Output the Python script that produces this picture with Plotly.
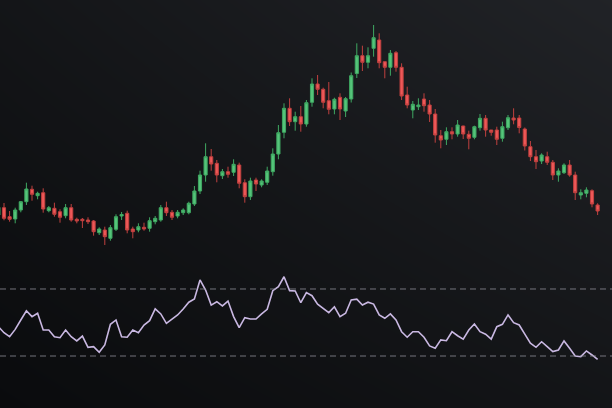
import plotly.graph_objects as go

# ---- candle data (price units) ----
opens = [85, 92.3, 83.3, 81, 90, 98.3, 110.7, 104.3, 107.3, 89.3,
         91.7, 88.3, 84.3, 92.3, 80.7, 80.7, 80, 79, 67.3, 70,
         61.7, 70.7, 84, 86.7, 71, 70, 72.7, 71.7, 78.3, 80,
         92.3, 87.7, 84, 87.3, 87.3, 96, 109, 125, 143.3, 136.7,
         124.3, 128.3, 127.7, 135, 117.3, 103.3, 120, 115, 117.7, 128.3,
         146, 167.7, 191.7, 178.3, 183.3, 176, 197.7, 216, 210.7, 199.3,
         191, 202.7, 189, 201, 226.5, 244.3, 237.7, 251.7, 260, 238.3,
         232.7, 247.3, 232.7, 205, 190, 193.3, 201, 195, 186, 164.3,
         160.7, 168.3, 166, 174, 165.7, 162.7, 172.3, 181.7, 170, 170,
         161.7, 172.3, 182, 182, 171, 153.3, 143.3, 139, 143.3, 137.7,
         125, 127.3, 135, 125, 105, 106.7, 109.3, 95]
highs = [95, 97, 89, 92.3, 99, 117.3, 114.3, 108.3, 111.7, 94,
         97.3, 90.7, 96, 96, 82.3, 82, 82.7, 80, 72.7, 73.3,
         75, 85.7, 88, 89.3, 73.3, 76.7, 77.3, 82.7, 84, 95,
         98.3, 90, 90, 91.7, 98.3, 114, 129.3, 156.7, 151, 140,
         131, 133.3, 140.7, 137.3, 120.7, 122.3, 122.3, 120.7, 133.3, 151.7,
         175, 196.7, 201.7, 188.3, 194, 200, 221.7, 225, 212.3, 218,
         202.3, 206.7, 203, 227.5, 256.7, 254.3, 252.7, 275, 266.7, 238.3,
         250, 249, 236.7, 213.3, 199, 201.7, 206.7, 200, 191, 170,
         172.7, 172.7, 180, 174.3, 169.3, 174.3, 186, 185, 170, 173.3,
         178.3, 185, 191.7, 185, 172.5, 159, 150, 146.7, 148.3, 140,
         131.7, 136.7, 140, 128.3, 110.7, 112.7, 110.7, 96.7]
lows = [82, 79.7, 78.3, 76.7, 87.7, 95, 99.3, 100.7, 87.3, 87.7,
        83.3, 77.3, 81.7, 78.3, 76.7, 72, 76, 64.3, 65, 55,
        59.3, 69, 80, 66.7, 61.7, 67.7, 69.3, 68.3, 75.7, 78.3,
        84, 80, 81.7, 85, 85.7, 94, 106, 118.3, 129.3, 117.7,
        121, 122.3, 124, 111.7, 97.3, 100, 109, 112.7, 115, 124.3,
        140.7, 161.7, 174, 169.3, 168.3, 173.3, 193.3, 205, 191.7, 185.7,
        185.7, 180, 183, 197.5, 222, 229, 231.7, 243.3, 231.7, 221.7,
        224.3, 228.3, 200, 191.7, 181.7, 190, 188.3, 178, 157.3, 151.7,
        155, 160.7, 163.3, 161, 150.7, 160.7, 169.3, 163.3, 164.3, 155,
        158.3, 170, 175.7, 166.7, 149.5, 139, 131, 136, 135, 120,
        118.3, 126, 123.3, 100, 100.7, 102.7, 92.7, 85]
closes = [92.7, 81.7, 80.7, 90, 98.3, 111, 105.7, 106.7, 91, 92.3,
          85.7, 82.7, 92.3, 80, 79, 79.3, 78.3, 68.3, 71, 63.3,
          72.3, 83.3, 85.5, 70, 68.3, 73.3, 71, 79.3, 81.7, 92.3,
          87.3, 82.7, 87.7, 90, 96.7, 109, 125, 143.3, 136, 125,
          128.3, 125.7, 135.7, 116.7, 103.3, 119, 116, 119, 129, 146,
          167.3, 191.7, 178.3, 183.3, 176, 197.3, 216, 210.7, 197.7, 190.7,
          200.7, 191, 201.3, 224.3, 244.3, 237.7, 244.3, 262.3, 237.3, 232.7,
          246.7, 232.7, 204, 195, 195.7, 195, 194.3, 186, 165, 160,
          168.3, 166, 175, 166, 161.7, 173.3, 181.7, 170, 167.7, 160.7,
          173.3, 182.3, 180, 172.5, 154, 143.3, 138.3, 145, 137.7, 125,
          129, 135, 125, 107.3, 107.3, 110, 96, 89]

# ---- oscillator (RSI-like) values ----
rsi = [47.5, 43.9, 41.5, 45.9, 51.5, 57.0, 53.5, 55.5, 45.5, 45.5,
       41.5, 40.9, 45.5, 41.5, 39.0, 41.9, 35.2, 35.6, 32.2, 36.6,
       48.9, 51.5, 41.5, 41.2, 45.5, 43.9, 48.5, 51.1, 58.1, 55.1,
       49.5, 51.9, 54.5, 58.1, 62.1, 64.0, 75.4, 69.4, 60.4, 62.4,
       59.9, 62.8, 53.5, 46.9, 52.9, 52.1, 52.1, 55.1, 57.9, 69.0,
       71.4, 77.3, 69.0, 68.8, 61.8, 67.8, 66.0, 60.9, 58.4, 55.9,
       59.4, 53.5, 55.5, 63.4, 63.9, 60.4, 62.1, 61.0, 54.5, 52.5,
       55.1, 51.5, 44.5, 41.2, 44.5, 44.5, 41.2, 36.0, 34.6, 39.6,
       39.1, 44.5, 42.1, 40.1, 45.5, 49.1, 44.5, 43.0, 40.1, 47.5,
       48.9, 54.5, 49.9, 48.5, 43.1, 37.6, 35.2, 38.5, 35.6, 32.6,
       33.6, 39.0, 34.6, 30.0, 29.6, 33.0, 30.6, 28.0]
levels = [70, 30]

idx = list(range(len(opens)))
ridx = list(range(len(rsi)))

X_RANGE = [0.286, 109.57]
Y_RANGE = [-108, 300]
Y2_RANGE = [-1.04, 242.5]

fig = go.Figure()

# background gradient
fig.add_trace(go.Heatmap(
    x=X_RANGE, y=Y_RANGE,
    z=[[0.0, 0.38], [0.40, 0.95]],
    zmin=0, zmax=1, zsmooth="best", showscale=False, hoverinfo="skip",
    colorscale=[[0, "#0a0b0d"], [1, "#222428"]],
))

fig.add_trace(go.Candlestick(
    x=idx, open=opens, high=highs, low=lows, close=closes,
    increasing=dict(line=dict(color="#3fa862", width=1), fillcolor="#55c47a"),
    decreasing=dict(line=dict(color="#c0403f", width=1), fillcolor="#ee5858"),
    whiskerwidth=0, showlegend=False, hoverinfo="skip",
))

fig.add_trace(go.Scatter(
    x=ridx, y=rsi, yaxis="y2", mode="lines",
    line=dict(color="#c9b8e2", width=1.6), showlegend=False, hoverinfo="skip",
))

for lv in levels:
    fig.add_shape(type="line", xref="paper", x0=0, x1=1, yref="y2", y0=lv, y1=lv,
                  line=dict(color="rgba(150,150,160,0.75)", width=1, dash="6px,4px"))

fig.update_layout(
    width=612, height=408,
    margin=dict(l=0, r=0, t=0, b=0),
    paper_bgcolor="#0a0b0d", plot_bgcolor="#0a0b0d",
    boxgap=0.2,
    xaxis=dict(range=X_RANGE, visible=False, rangeslider=dict(visible=False),
               showgrid=False, zeroline=False),
    yaxis=dict(range=Y_RANGE, visible=False, showgrid=False, zeroline=False, domain=[0, 1]),
    yaxis2=dict(range=Y2_RANGE, visible=False, showgrid=False, zeroline=False,
                overlaying="y", domain=[0, 1]),
    showlegend=False,
)

fig.write_html("out.html")
